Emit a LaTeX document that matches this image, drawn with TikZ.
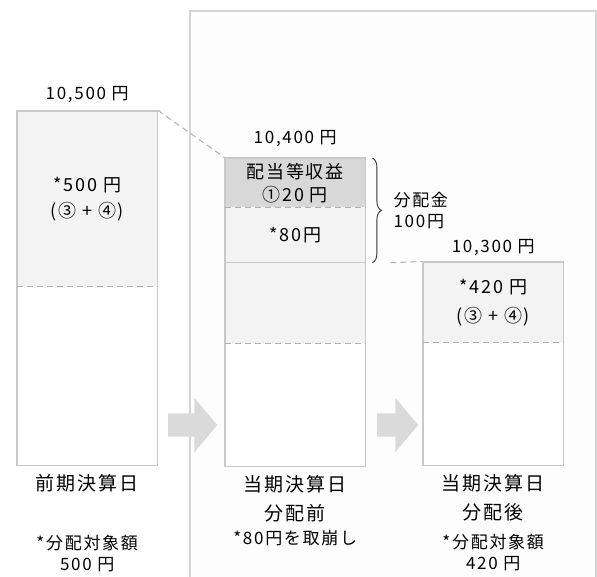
\documentclass[tikz,border=0pt]{standalone}
\usepackage{fontspec}
\setmainfont{Noto Sans CJK JP}[LetterSpace=10]
\usepackage{tikz}
\usepackage{xcolor}
\usetikzlibrary{positioning}
\usetikzlibrary{fit}
\usetikzlibrary{calc}
\usetikzlibrary{shapes.arrows}
\usetikzlibrary{decorations.pathreplacing}
\definecolor{frame1}{RGB}{200, 200, 200}
\definecolor{panel1}{RGB}{253, 253, 253}
\definecolor{panel2}{RGB}{212, 212, 212}
\definecolor{light1}{RGB}{243, 243, 243}
\definecolor{dark1}{RGB}{216, 216, 216}
\definecolor{guide1}{RGB}{176, 176, 176}
\definecolor{arrow1}{RGB}{218, 218, 218}
\tikzstyle{slab} = [
	inner sep=0pt,
	minimum width=140pt,
	align=center,
	font=\fontsize{18}{26}\selectfont
]
\tikzstyle{lightslab} = [slab, fill=light1]
\tikzstyle{darkslab} = [slab, fill=dark1]
\tikzstyle{whiteslab} = [slab, fill=white]
\tikzstyle{boxline} = [
	draw=frame1,
	line width=1.2pt,
	inner sep=0pt
]
\tikzstyle{cutline} = [
	draw=guide1,
	dash pattern=on 6pt off 4pt,
	line width=1pt
]
\tikzstyle{sumlabel} = [
	inner sep=0pt,
	font=\fontsize{17}{21}\selectfont
]
\tikzstyle{daylabel} = [
	inner sep=0pt,
	align=center,
	font=\fontsize{19}{29}\selectfont
]
\tikzstyle{notelabel} = [
	inner sep=0pt,
	align=center,
	font=\fontsize{17}{21}\selectfont
]
\tikzstyle{flow} = [
	single arrow,
	fill=arrow1,
	inner sep=0pt,
	text width=0pt,
	text height=11.5pt,
	text depth=11.5pt,
	minimum width=54pt,
	single arrow head extend=15.5pt,
	single arrow tip angle=100
]
\tikzstyle{bracket} = [
	draw=black!80,
	line width=0.9pt,
	decorate,
	decoration={brace, amplitude=9pt}
]

\begin{document}
\begin{tikzpicture}[x=1pt, y=-1pt, node distance=0pt and 0pt]
	\useasboundingbox (0,0) rectangle (597,577);
	
	% Current period panel
	\fill[panel1] (190,11) rectangle (596,577);
	\draw[panel2, line width=1.2pt] (190,577) -- (190,11) -- (596,11) -- (596,577);
	
	% Previous settlement
	\node[lightslab, minimum height=175pt, anchor=north west] (P1) at (17,111) {*500 円\\(③ + ④)};
	\node[whiteslab, minimum height=179pt, below=of P1] (P2) {};
	\node[boxline, fit=(P1)(P2)] (P) {};
	\draw[cutline] (P1.south west) -- (P1.south east);
	\node[sumlabel, above=7pt of P] (Psum) {10,500 円};
	\node[daylabel, below=8pt of P] (Pday) {前期決算日};
	\node[notelabel, below=42pt of Pday] (Pnote) {*分配対象額\\500 円};
	
	% Before distribution
	\node[darkslab, minimum height=49pt, anchor=north west, font=\fontsize{18}{23}\selectfont] (B1) at (225,158) {配当等収益\\①20 円};
	\node[lightslab, minimum height=55pt, below=of B1] (B2) {*80円};
	\node[lightslab, minimum height=80pt, below=of B2] (B3) {};
	\node[whiteslab, minimum height=123pt, below=of B3] (B4) {};
	\node[boxline, fit=(B1)(B4)] (B) {};
	\draw[cutline] (B1.south west) -- (B1.south east);
	\draw[boxline] (B2.south west) -- (B2.south east);
	\draw[cutline] (B3.south west) -- (B3.south east);
	\node[sumlabel, above=10pt of B] (Bsum) {10,400 円};
	\node[daylabel, below=8pt of B] (Bday) {当期決算日\\分配前};
	\node[notelabel, below=8pt of Bday] (Bnote) {*80円を取崩し};
	
	% Distribution brace
	\draw[bracket] ([xshift=7pt]B1.north east) -- ([xshift=7pt]B2.south east);
	\node[sumlabel, align=left, anchor=west] (Dist) at ($([xshift=28pt]B1.north east)!0.5!([xshift=28pt]B2.south east)$) {分配金\\100円};
	
	% After distribution
	\node[lightslab, minimum height=80pt, anchor=north west, font=\fontsize{18}{29}\selectfont] (A1) at (423,262) {*420 円\\(③ + ④)};
	\node[whiteslab, minimum height=123pt, below=of A1] (A2) {};
	\node[boxline, fit=(A1)(A2)] (A) {};
	\draw[cutline] (A1.south west) -- (A1.south east);
	\node[sumlabel, above=5pt of A] (Asum) {10,300 円};
	\node[daylabel, below=8pt of A] (Aday) {当期決算日\\分配後};
	\node[notelabel, below=12pt of Aday] (Anote) {*分配対象額\\420 円};
	
	% Guides and arrows
	\draw[cutline] (P.north east) -- (B.north west);
	\draw[cutline] ([xshift=25pt]B2.south east) -- (A.north west);
	\node[flow, minimum height=49pt, anchor=west] (F1) at (168,425) {};
	\node[flow, minimum height=41pt, anchor=west] (F2) at (377,425) {};
	
\end{tikzpicture}
\end{document}
